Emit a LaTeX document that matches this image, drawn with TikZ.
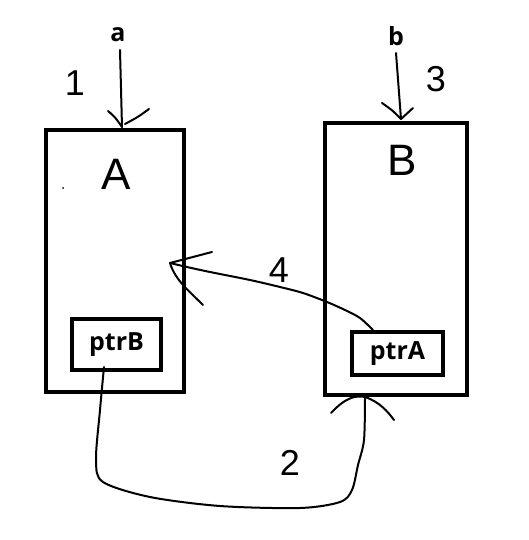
\documentclass[tikz,border=0pt]{standalone}
\usepackage{fontspec}
\newfontfamily\lblfont{Open Sans}
\newfontfamily\handfont{Liberation Sans}
\begin{document}
\begin{tikzpicture}[x=1pt,y=-1pt,
  box/.style={draw=black,line width=4pt,inner sep=0pt,fill=none},
  lbl/.style={font=\lblfont\bfseries\fontsize{25}{25}\selectfont,inner sep=0pt},
  hand/.style={font=\handfont\fontsize{36}{36}\selectfont,inner sep=0pt},
  pen/.style={line width=2pt,line cap=round,line join=round}]
\useasboundingbox[fill=white] (0,0) rectangle (529,540);
% boxes
\node[box,minimum width=138pt,minimum height=262pt] (boxA) at (115,261) {};
\node[box,minimum width=142pt,minimum height=272pt] (boxB) at (396,259) {};
\node[box,minimum width=89pt,minimum height=51pt,lbl] (ptrB) at (116.5,344.5) {ptrB};
\node[box,minimum width=91pt,minimum height=43pt,lbl] (ptrA) at (397.5,353.5) {ptrA};
% labels
\node[lbl] (la) at (118,35) {a};
\node[lbl] (lb) at (396,36) {b};
\node[hand,font=\handfont\fontsize{44}{44}\selectfont] (nA) at (116,174) {A};
\node[hand,font=\handfont\fontsize{44}{44}\selectfont] (nB) at (402,160) {B};
\node[hand] (n1) at (75,83) {1};
\node[hand] (n3) at (436,79) {3};
\node[hand] (n4) at (279,270) {4};
\node[hand] (n2) at (290,463) {2};
\fill (63,188) circle (1pt);
% arrow a
\coordinate (aS) at (120,50);
\coordinate (aT) at (122,127);
\draw[pen] (aS) -- (aT);
\draw[pen] (108,111) .. controls (115,117) .. (aT);
\draw[pen] (149,109) .. controls (138,117) .. (125,124);
% arrow b
\coordinate (bS) at (396,53);
\coordinate (bT) at (401,119);
\draw[pen] (bS) -- (bT);
\draw[pen] (382,103) .. controls (392,110) .. (bT);
\draw[pen] (413,108) .. controls (407,113) .. (bT);
% arrow 4
\coordinate (fS) at (373,330);
\coordinate (fT) at (170,263);
\draw[pen] plot[smooth,tension=0.5] coordinates {(fS) (360,318) (345,310) (327,302) (303,293) (280,287) (250,280) (210,272) (187,267) (fT)};
\draw[pen] (fT) -- (212,252);
\draw[pen] (fT) .. controls (175,280) and (190,292) .. (203,305);
% arrow 2
\coordinate (tS) at (104,367);
\coordinate (tT) at (365,397);
\draw[pen] plot[smooth,tension=0.5] coordinates {(tS) (100,410) (96,460) (103,482) (150,497) (220,506) (300,508) (340,502) (352,490) (358,465) (364,440) (tT)};
\draw[pen] (331,413) .. controls (345,398) and (355,395) .. (tT);
\draw[pen] (tT) .. controls (380,402) and (388,412) .. (394,420);
\end{tikzpicture}
\end{document}
